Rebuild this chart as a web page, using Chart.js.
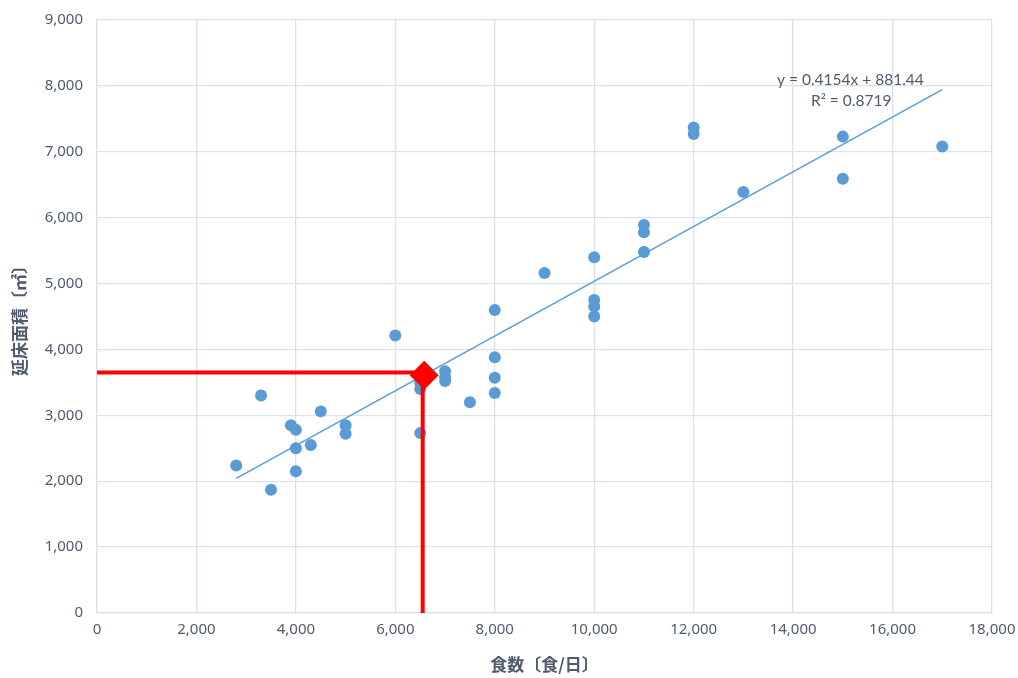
<!DOCTYPE html>
<html><head><meta charset="utf-8">
<script src="https://cdn.jsdelivr.net/npm/chart.js@4.4.1/dist/chart.umd.min.js"></script>
<style>html,body{margin:0;padding:0;background:#fff}#wrap{width:1018px;height:678px}</style>
</head><body><div id="wrap"><canvas id="c" width="1018" height="678"></canvas></div>
<script>
const mealsX = [2800,3300,3500,3900,4000,4000,4000,4300,4500,5000,5000,6000,6500,6500,6500,7000,7000,7000,7500,8000,8000,8000,8000,9000,10000,10000,10000,10000,11000,11000,11000,12000,12000,13000,15000,15000,17000];
const floorAreaY = [2240,3300,1870,2850,2780,2500,2150,2550,3060,2850,2720,4210,3500,3400,2730,3670,3580,3520,3200,4600,3880,3570,3340,5160,5400,4750,4650,4500,5890,5780,5480,7370,7270,6390,7230,6590,7080];
const trendSlope = 0.4154;
const trendIntercept = 881.44;
const trendRange = [2800, 17000];
const targetX = 6580;
const targetY = 3610;
const guideX = 6550;
const guideY = 3650;
const xTicks = [0,2000,4000,6000,8000,10000,12000,14000,16000,18000];
const yTicks = [0,1000,2000,3000,4000,5000,6000,7000,8000,9000];
const trendLabel = ['y = 0.4154x + 881.44', 'R² = 0.8719'];

const pts = mealsX.map((x,i)=>({x, y: floorAreaY[i]}));
const trendPts = trendRange.map(x=>({x, y: trendSlope*x + trendIntercept}));
const guidePts = [{x:0,y:guideY},{x:guideX,y:guideY},{x:guideX,y:0}];

const txt = '#4f5b6d';
const gridC = '#dde2ea';
const numFont = {family:'"Noto Sans", "Noto Sans CJK JP", sans-serif', size:15};
const cjkFont = {family:'"Noto Sans CJK JP", sans-serif', size:17, weight:'bold'};

const labelPlugin = {
  id:'trendLabel',
  afterDatasetsDraw(chart){
    const {ctx} = chart;
    ctx.save();
    ctx.font = '15.5px Lato, "Noto Sans", sans-serif';
    ctx.fillStyle = txt;
    ctx.textAlign = 'left';
    ctx.textBaseline = 'middle';
    ctx.fillText(trendLabel[0], 777, 80);
    ctx.fillText(trendLabel[1], 811, 101);
    ctx.restore();
  }
};

new Chart(document.getElementById('c'), {
  type:'scatter',
  data:{datasets:[
    {label:'guide', type:'line', data:guidePts, borderColor:'#ff0000', borderWidth:4, pointRadius:0, fill:false, tension:0, order:1},
    {label:'target', data:[{x:targetX,y:targetY}], pointStyle:'rectRot', pointRadius:14.5, pointHoverRadius:14.5, backgroundColor:'#ff0000', borderColor:'#ff0000', borderWidth:0, order:0},
    {label:'trend', type:'line', data:trendPts, borderColor:'#5b9bd5', borderWidth:1.5, pointRadius:0, fill:false, order:2},
    {label:'data', data:pts, pointRadius:6, pointHoverRadius:6, backgroundColor:'#5b9bd5', borderColor:'#5b9bd5', borderWidth:0, order:3}
  ]},
  options:{
    responsive:false, animation:false, devicePixelRatio:1,
    layout:{padding:{left:0,right:26,top:20,bottom:0}},
    plugins:{legend:{display:false}, tooltip:{enabled:false}},
    scales:{
      x:{type:'linear', min:0, max:18000,
        afterBuildTicks(s){ s.ticks = xTicks.map(v=>({value:v})); },
        afterFit(s){ s.height = 65; s.paddingLeft = 0; s.paddingRight = 0; },
        ticks:{color:txt, font:numFont, padding:8, maxRotation:0, callback:v=>v.toLocaleString('en-US')},
        grid:{color:gridC, lineWidth:1.3, drawTicks:false},
        border:{color:gridC, width:1.3},
        title:{display:true, text:'食数〔食/日〕', color:txt, font:cjkFont, padding:{top:4,bottom:3}}
      },
      y:{type:'linear', min:0, max:9000,
        afterBuildTicks(s){ s.ticks = yTicks.map(v=>({value:v})); },
        afterFit(s){ s.width = 97; s.paddingTop = 0; s.paddingBottom = 0; },
        ticks:{color:txt, font:numFont, padding:14, callback:v=>v.toLocaleString('en-US')},
        grid:{color:gridC, lineWidth:1.3, drawTicks:false},
        border:{color:gridC, width:1.3},
        title:{display:true, text:'延床面積〔㎡〕', color:txt, font:cjkFont, padding:{top:9,bottom:4}}
      }
    }
  },
  plugins:[labelPlugin]
});
</script></body></html>
